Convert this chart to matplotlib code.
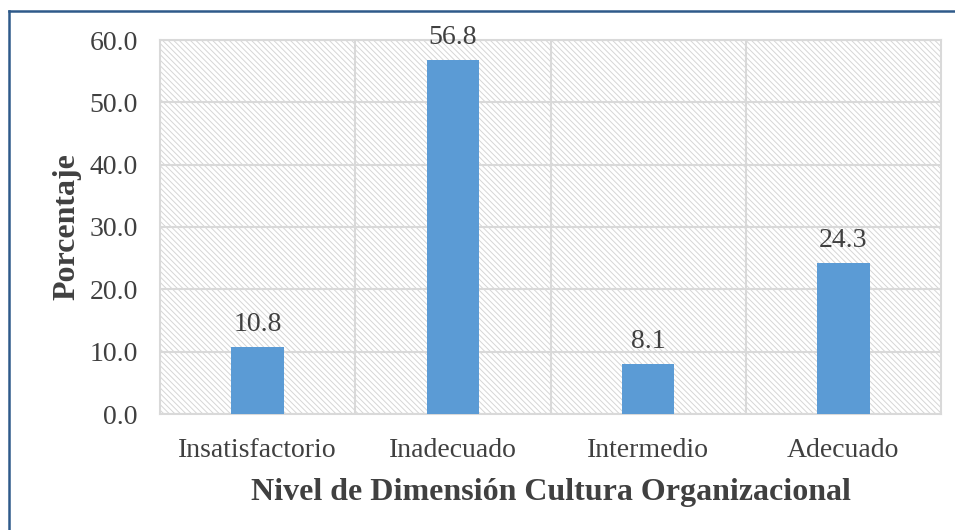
import matplotlib
matplotlib.use("Agg")
import matplotlib.pyplot as plt
from matplotlib.patches import Rectangle
from matplotlib.lines import Line2D

categories = ["Insatisfactorio", "Inadecuado", "Intermedio", "Adecuado"]
values = [10.8, 56.8, 8.1, 24.3]
yticks = [0, 10, 20, 30, 40, 50, 60]

plt.rcParams['font.family'] = ['Liberation Serif', 'DejaVu Serif']
plt.rcParams['hatch.linewidth'] = 0.7

txt = '#404040'
grid = '#d9d9d9'

fig = plt.figure(figsize=(9.55, 5.30), dpi=100)
ax = fig.add_axes([160/955, 1-414/530, 781/955, 374/530])

# hatched background
bg = Rectangle((0, 0), 1, 1, transform=ax.transAxes, facecolor='white',
               edgecolor='#d6d6d6', hatch='\\\\\\\\\\\\', lw=0, zorder=0)
ax.add_patch(bg)

x = list(range(len(categories)))
bars = ax.bar(x, values, width=0.27, color='#5b9bd5', zorder=3)
for xi, v in zip(x, values):
    ax.annotate(f"{v:.1f}", (xi, v), xytext=(0, 7), textcoords='offset points',
                ha='center', va='bottom', fontsize=20, color=txt, zorder=4)

ax.set_xlim(-0.5, len(categories) - 0.5)
ax.set_ylim(0, 60)
ax.set_yticks(yticks)
ax.set_yticklabels([f"{t:.1f}" for t in yticks])
ax.set_xticks(x)
ax.set_xticklabels(categories)
ax.tick_params(axis='both', length=0, labelsize=20, colors=txt)
ax.tick_params(axis='y', pad=16)
ax.tick_params(axis='x', pad=17)

for yv in yticks:
    ax.axhline(yv, color=grid, lw=1.5, zorder=1)
for b in [0.5, 1.5, 2.5]:
    ax.axvline(b, color=grid, lw=1.5, zorder=1)
for s in ax.spines.values():
    s.set_color(grid)
    s.set_linewidth(1.5)
    s.set_zorder(1)

ax.set_ylabel("Porcentaje", fontsize=23, fontweight='bold', color=txt, labelpad=6)
ax.set_xlabel("Nivel de Dimensión Cultura Organizacional", fontsize=23,
              fontweight='bold', color=txt, labelpad=11)

border = '#2f5a8a'
fig.add_artist(Line2D([9/955, 1], [1-11/530, 1-11/530], transform=fig.transFigure,
                      color=border, lw=1.8))
fig.add_artist(Line2D([9/955, 9/955], [0, 1-11/530], transform=fig.transFigure,
                      color=border, lw=1.8))

fig.savefig("out.png", dpi=100)
